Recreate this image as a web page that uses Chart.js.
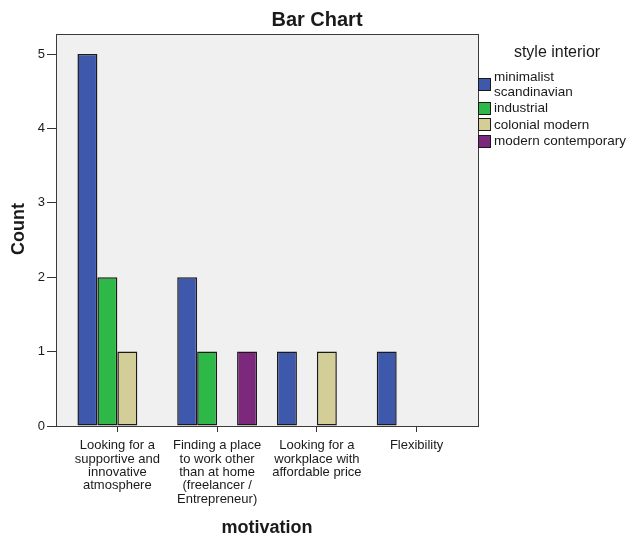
<!DOCTYPE html>
<html>
<head>
<meta charset="utf-8">
<script src="https://cdn.jsdelivr.net/npm/chart.js@4/dist/chart.umd.min.js"></script>
<style>
  html, body { margin: 0; padding: 0; background: #ffffff; }
  #wrap { width: 626px; height: 538px; }
</style>
</head>
<body>
<div id="wrap"><canvas id="chart" width="626" height="538"></canvas></div>
<script>
// Motivation categories (each label split into its printed lines)
const categories = [
  ["Looking for a", "supportive and", "innovative", "atmosphere"],
  ["Finding a place", "to work other", "than at home", "(freelancer /", "Entrepreneur)"],
  ["Looking for a", "workplace with", "affordable price"],
  ["Flexibility"]
];

// Counts per interior style (null = no bar)
const minimalistScandinavian = [5, 2, 1, 1];
const industrial            = [2, 1, null, null];
const colonialModern        = [1, null, 1, null];
const modernContemporary    = [null, 1, null, null];

const seriesNames = ["minimalist scandinavian", "industrial", "colonial modern", "modern contemporary"];
const seriesValues = [minimalistScandinavian, industrial, colonialModern, modernContemporary];
const seriesColors = ["#3e58ac", "#2eb848", "#d3ce97", "#7c287d"];

const yTicks = [0, 1, 2, 3, 4, 5];

const FONT = 'Arial, "Liberation Sans", sans-serif';
const TEXT = '#1a1a1a';

const datasets = seriesNames.map((name, s) => ({
  label: name,
  data: seriesValues[s].map((v, i) => ({ x: i, y: v })),
  backgroundColor: seriesColors[s],
  borderColor: '#1a1a1a',
  borderWidth: 1.5,
  borderSkipped: false,
  barPercentage: 1.0,
  categoryPercentage: 0.8
}));

// Plot background, frame, titles and the side legend
const decor = {
  id: 'decor',
  beforeDraw(chart) {
    const { ctx, chartArea: a } = chart;
    ctx.save();
    ctx.fillStyle = '#f0f0f0';
    ctx.fillRect(a.left, a.top, a.right - a.left, a.bottom - a.top);
    ctx.restore();
  },
  afterDraw(chart) {
    const { ctx, chartArea: a } = chart;
    ctx.save();
    // frame
    ctx.strokeStyle = '#3a3a3a';
    ctx.lineWidth = 1;
    ctx.strokeRect(Math.round(a.left) + 0.5, Math.round(a.top) + 0.5,
                   Math.round(a.right - a.left), Math.round(a.bottom - a.top));

    // chart title
    ctx.fillStyle = TEXT;
    ctx.textAlign = 'center';
    ctx.textBaseline = 'alphabetic';
    ctx.font = 'bold 20px ' + FONT;
    ctx.fillText('Bar Chart', 317, 26);

    // axis titles
    ctx.font = 'bold 18px ' + FONT;
    ctx.fillText('motivation', 267, 533);
    ctx.save();
    ctx.translate(24, 229);
    ctx.rotate(-Math.PI / 2);
    ctx.fillText('Count', 0, 0);
    ctx.restore();

    // legend
    ctx.textAlign = 'center';
    ctx.textBaseline = 'middle';
    ctx.font = '16px ' + FONT;
    ctx.fillText('style interior', 557, 53);

    ctx.font = '13.5px ' + FONT;
    ctx.textAlign = 'left';
    const maxW = 136, lineH = 15, gap = 16.5;
    let y = 77;
    chart.data.datasets.forEach(ds => {
      // wrap label into lines within maxW
      const words = ds.label.split(' ');
      const lines = [];
      let cur = '';
      words.forEach(w => {
        const t = cur ? cur + ' ' + w : w;
        if (ctx.measureText(t).width > maxW && cur) { lines.push(cur); cur = w; }
        else cur = t;
      });
      if (cur) lines.push(cur);
      const blockMid = y + (lines.length - 1) * lineH / 2;
      ctx.fillStyle = ds.backgroundColor;
      ctx.fillRect(478.5, Math.round(blockMid - 7) + 0.5, 12, 12);
      ctx.strokeStyle = '#1a1a1a';
      ctx.strokeRect(478.5, Math.round(blockMid - 7) + 0.5, 12, 12);
      ctx.fillStyle = TEXT;
      lines.forEach((ln, k) => ctx.fillText(ln, 494, y + k * lineH));
      y += (lines.length - 1) * lineH + gap;
    });
    ctx.restore();
  }
};

new Chart(document.getElementById('chart'), {
  type: 'bar',
  data: { datasets },
  options: {
    responsive: false,
    devicePixelRatio: 1,
    animation: false,
    layout: { padding: { left: 0, top: 34, right: 148, bottom: 0 } },
    plugins: {
      legend: { display: false },
      tooltip: { enabled: false },
      title: { display: false }
    },
    scales: {
      x: {
        type: 'linear',
        min: -0.615,
        max: 3.615,
        offset: false,
        afterBuildTicks: s => { s.ticks = categories.map((_, i) => ({ value: i })); },
        afterFit: s => { s.height = 112; },
        border: { display: false },
        grid: { offset: false, drawOnChartArea: false, drawTicks: true, tickLength: 6, tickColor: '#333', lineWidth: 1 },
        ticks: {
          autoSkip: false,
          maxRotation: 0,
          minRotation: 0,
          padding: 7,
          color: TEXT,
          font: { family: FONT, size: 13, lineHeight: 1.03 },
          callback: v => categories[v] || ''
        }
      },
      y: {
        min: 0,
        max: 5.27,
        afterBuildTicks: s => { s.ticks = yTicks.map(v => ({ value: v })); },
        afterFit: s => { s.width = 56; },
        border: { display: false },
        grid: { offset: false, drawOnChartArea: false, drawTicks: true, tickLength: 9, tickColor: '#333', lineWidth: 1 },
        ticks: {
          padding: 2,
          color: TEXT,
          font: { family: FONT, size: 13 }
        }
      }
    }
  },
  plugins: [decor]
});
</script>
</body>
</html>
